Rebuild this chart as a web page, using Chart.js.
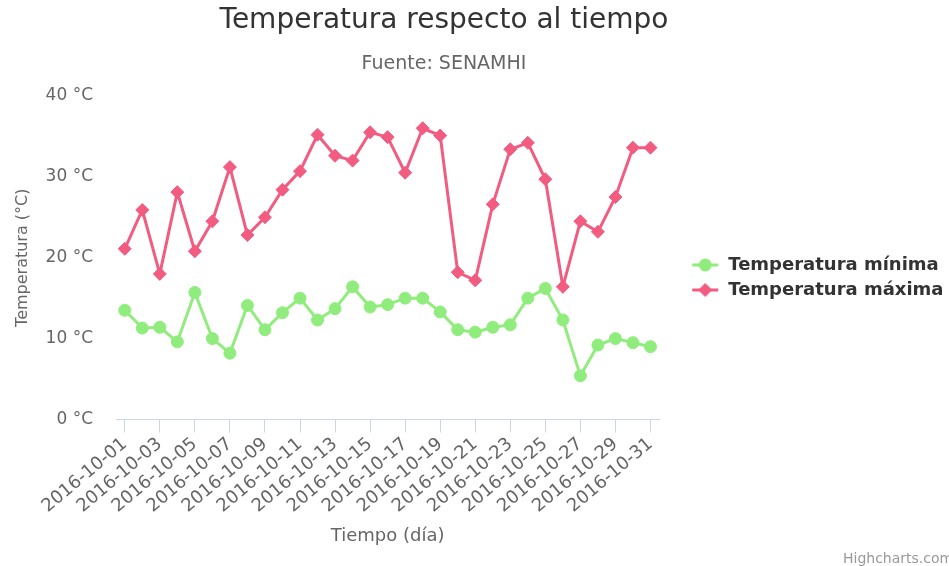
<!DOCTYPE html>
<html>
<head>
<meta charset="utf-8">
<script src="https://cdn.jsdelivr.net/npm/chart.js@4/dist/chart.umd.min.js"></script>
<style>
  html, body { margin: 0; padding: 0; background: #ffffff; }
  #wrap { width: 949px; height: 566px; position: relative; }
</style>
</head>
<body>
<div id="wrap"><canvas id="c"></canvas></div>
<script>
const titleText = 'Temperatura respecto al tiempo';
const subtitleText = 'Fuente: SENAMHI';
const xTitle = 'Tiempo (día)';
const yTitle = 'Temperatura (°C)';
const yUnit = ' °C';
const creditsText = 'Highcharts.com';

const categories = [
  '2016-10-01','2016-10-02','2016-10-03','2016-10-04','2016-10-05','2016-10-06','2016-10-07',
  '2016-10-08','2016-10-09','2016-10-10','2016-10-11','2016-10-12','2016-10-13','2016-10-14',
  '2016-10-15','2016-10-16','2016-10-17','2016-10-18','2016-10-19','2016-10-20','2016-10-21',
  '2016-10-22','2016-10-23','2016-10-24','2016-10-25','2016-10-26','2016-10-27','2016-10-28',
  '2016-10-29','2016-10-30','2016-10-31'
];

const seriesNames = ['Temperatura mínima', 'Temperatura máxima'];

const tempMin = [13.5, 11.3, 11.4, 9.6, 15.7, 10.0, 8.2, 14.1, 11.1, 13.2, 15.0, 12.3, 13.7, 16.4, 13.9,
                 14.2, 15.0, 15.0, 13.3, 11.1, 10.8, 11.4, 11.7, 15.0, 16.2, 12.3, 5.4, 9.2, 10.0, 9.5, 9.0];

const tempMax = [21.1, 25.9, 18.0, 28.1, 20.8, 24.5, 31.2, 22.8, 25.0, 28.4, 30.7, 35.2, 32.6, 32.0, 35.5,
                 34.9, 30.5, 36.0, 35.1, 18.2, 17.2, 26.6, 33.4, 34.2, 29.7, 16.4, 24.5, 23.2, 27.5, 33.6, 33.6];

const yTickValues = [0, 10, 20, 30, 40];

const colorMin = '#90ed7d';
const colorMax = '#f15c80';

Chart.defaults.font.family = "'DejaVu Sans', 'Verdana', sans-serif";

function legendIcon(color, shape) {
  const c = document.createElement('canvas');
  c.width = 53; c.height = 16;
  const g = c.getContext('2d');
  g.strokeStyle = color; g.lineWidth = 3;
  g.beginPath(); g.moveTo(26, 8); g.lineTo(52, 8); g.stroke();
  g.fillStyle = color;
  g.beginPath();
  if (shape === 'circle') {
    g.arc(39, 8, 6.5, 0, Math.PI * 2);
  } else {
    g.moveTo(39, 1); g.lineTo(46, 8); g.lineTo(39, 15); g.lineTo(32, 8); g.closePath();
  }
  g.fill();
  return c;
}
const legendIcons = [legendIcon(colorMin, 'circle'), legendIcon(colorMax, 'diamond')];

const layoutTweaks = {
  id: 'layoutTweaks',
  afterLayout(chart) {
    chart.boxes.forEach(b => {
      if (b.options && (b.options.text === titleText || b.options.text === subtitleText)) {
        b.left = 0; b.right = 888; b.width = 888;
      }
    });
    if (chart.legend) {
      chart.legend.right = chart.width;
      chart.legend.width = chart.width - chart.legend.left;
    }
  }
};

const credits = {
  id: 'credits',
  afterDraw(chart) {
    const ctx = chart.ctx;
    ctx.save();
    ctx.font = "14px 'DejaVu Sans', sans-serif";
    ctx.fillStyle = '#999999';
    ctx.textAlign = 'left';
    ctx.textBaseline = 'alphabetic';
    ctx.fillText(creditsText, 843, 563);
    ctx.restore();
  }
};

new Chart(document.getElementById('c'), {
  type: 'line',
  data: {
    labels: categories,
    datasets: [
      {
        label: seriesNames[0],
        data: tempMin,
        borderColor: colorMin,
        backgroundColor: colorMin,
        borderWidth: 3,
        pointStyle: 'circle',
        pointRadius: 6,
        pointBorderWidth: 1,
        pointBackgroundColor: colorMin,
        pointBorderColor: colorMin,
        tension: 0,
        fill: false
      },
      {
        label: seriesNames[1],
        data: tempMax,
        borderColor: colorMax,
        backgroundColor: colorMax,
        borderWidth: 3,
        pointStyle: 'rectRot',
        pointRadius: 6.5,
        pointBorderWidth: 1,
        pointBackgroundColor: colorMax,
        pointBorderColor: colorMax,
        tension: 0,
        fill: false
      }
    ]
  },
  options: {
    responsive: true,
    maintainAspectRatio: false,
    animation: false,
    layout: { padding: { left: 0, right: 70, top: 0, bottom: 11 } },
    plugins: {
      title: {
        display: true,
        text: titleText,
        color: '#333333',
        font: { size: 28, weight: 'normal' },
        padding: { top: 4, bottom: 0 }
      },
      subtitle: {
        display: true,
        text: subtitleText,
        color: '#666666',
        font: { size: 19, weight: 'normal' },
        padding: { top: 15, bottom: 20.5 }
      },
      legend: {
        display: true,
        position: 'right',
        align: 'center',
        labels: {
          usePointStyle: true,
          pointStyleWidth: 53,
          padding: 7,
          color: '#333333',
          font: { size: 18, weight: 'bold' },
          generateLabels(chart) {
            const items = Chart.defaults.plugins.legend.labels.generateLabels(chart);
            items.forEach(it => { it.pointStyle = legendIcons[it.datasetIndex]; });
            return items;
          }
        }
      },
      tooltip: { enabled: false }
    },
    scales: {
      x: {
        type: 'category',
        offset: true,
        border: { display: true, color: '#ccd6eb', width: 1 },
        grid: { display: true, drawOnChartArea: false, drawTicks: true, tickLength: 13, color: '#ccd6eb', offset: false },
        ticks: {
          autoSkip: false,
          maxRotation: 40,
          minRotation: 40,
          padding: 1,
          color: '#666666',
          font: { size: 18 },
          callback: (v, i) => (i % 2 === 0 ? categories[i] : null)
        },
        title: {
          display: true,
          text: xTitle,
          color: '#666666',
          font: { size: 18 },
          padding: { top: 7.1, bottom: 8 }
        }
      },
      y: {
        min: yTickValues[0],
        max: yTickValues[yTickValues.length - 1],
        border: { display: false },
        grid: { display: false, drawTicks: false },
        afterFit: s => { s.width = 116; },
        afterBuildTicks: s => { s.ticks = yTickValues.map(v => ({ value: v })); },
        ticks: {
          padding: 23,
          color: '#666666',
          font: { size: 17 },
          callback: v => v + yUnit
        },
        title: {
          display: true,
          text: yTitle,
          color: '#666666',
          font: { size: 16 },
          padding: { top: 13.4, bottom: 13 }
        }
      }
    }
  },
  plugins: [layoutTweaks, credits]
});
</script>
</body>
</html>
